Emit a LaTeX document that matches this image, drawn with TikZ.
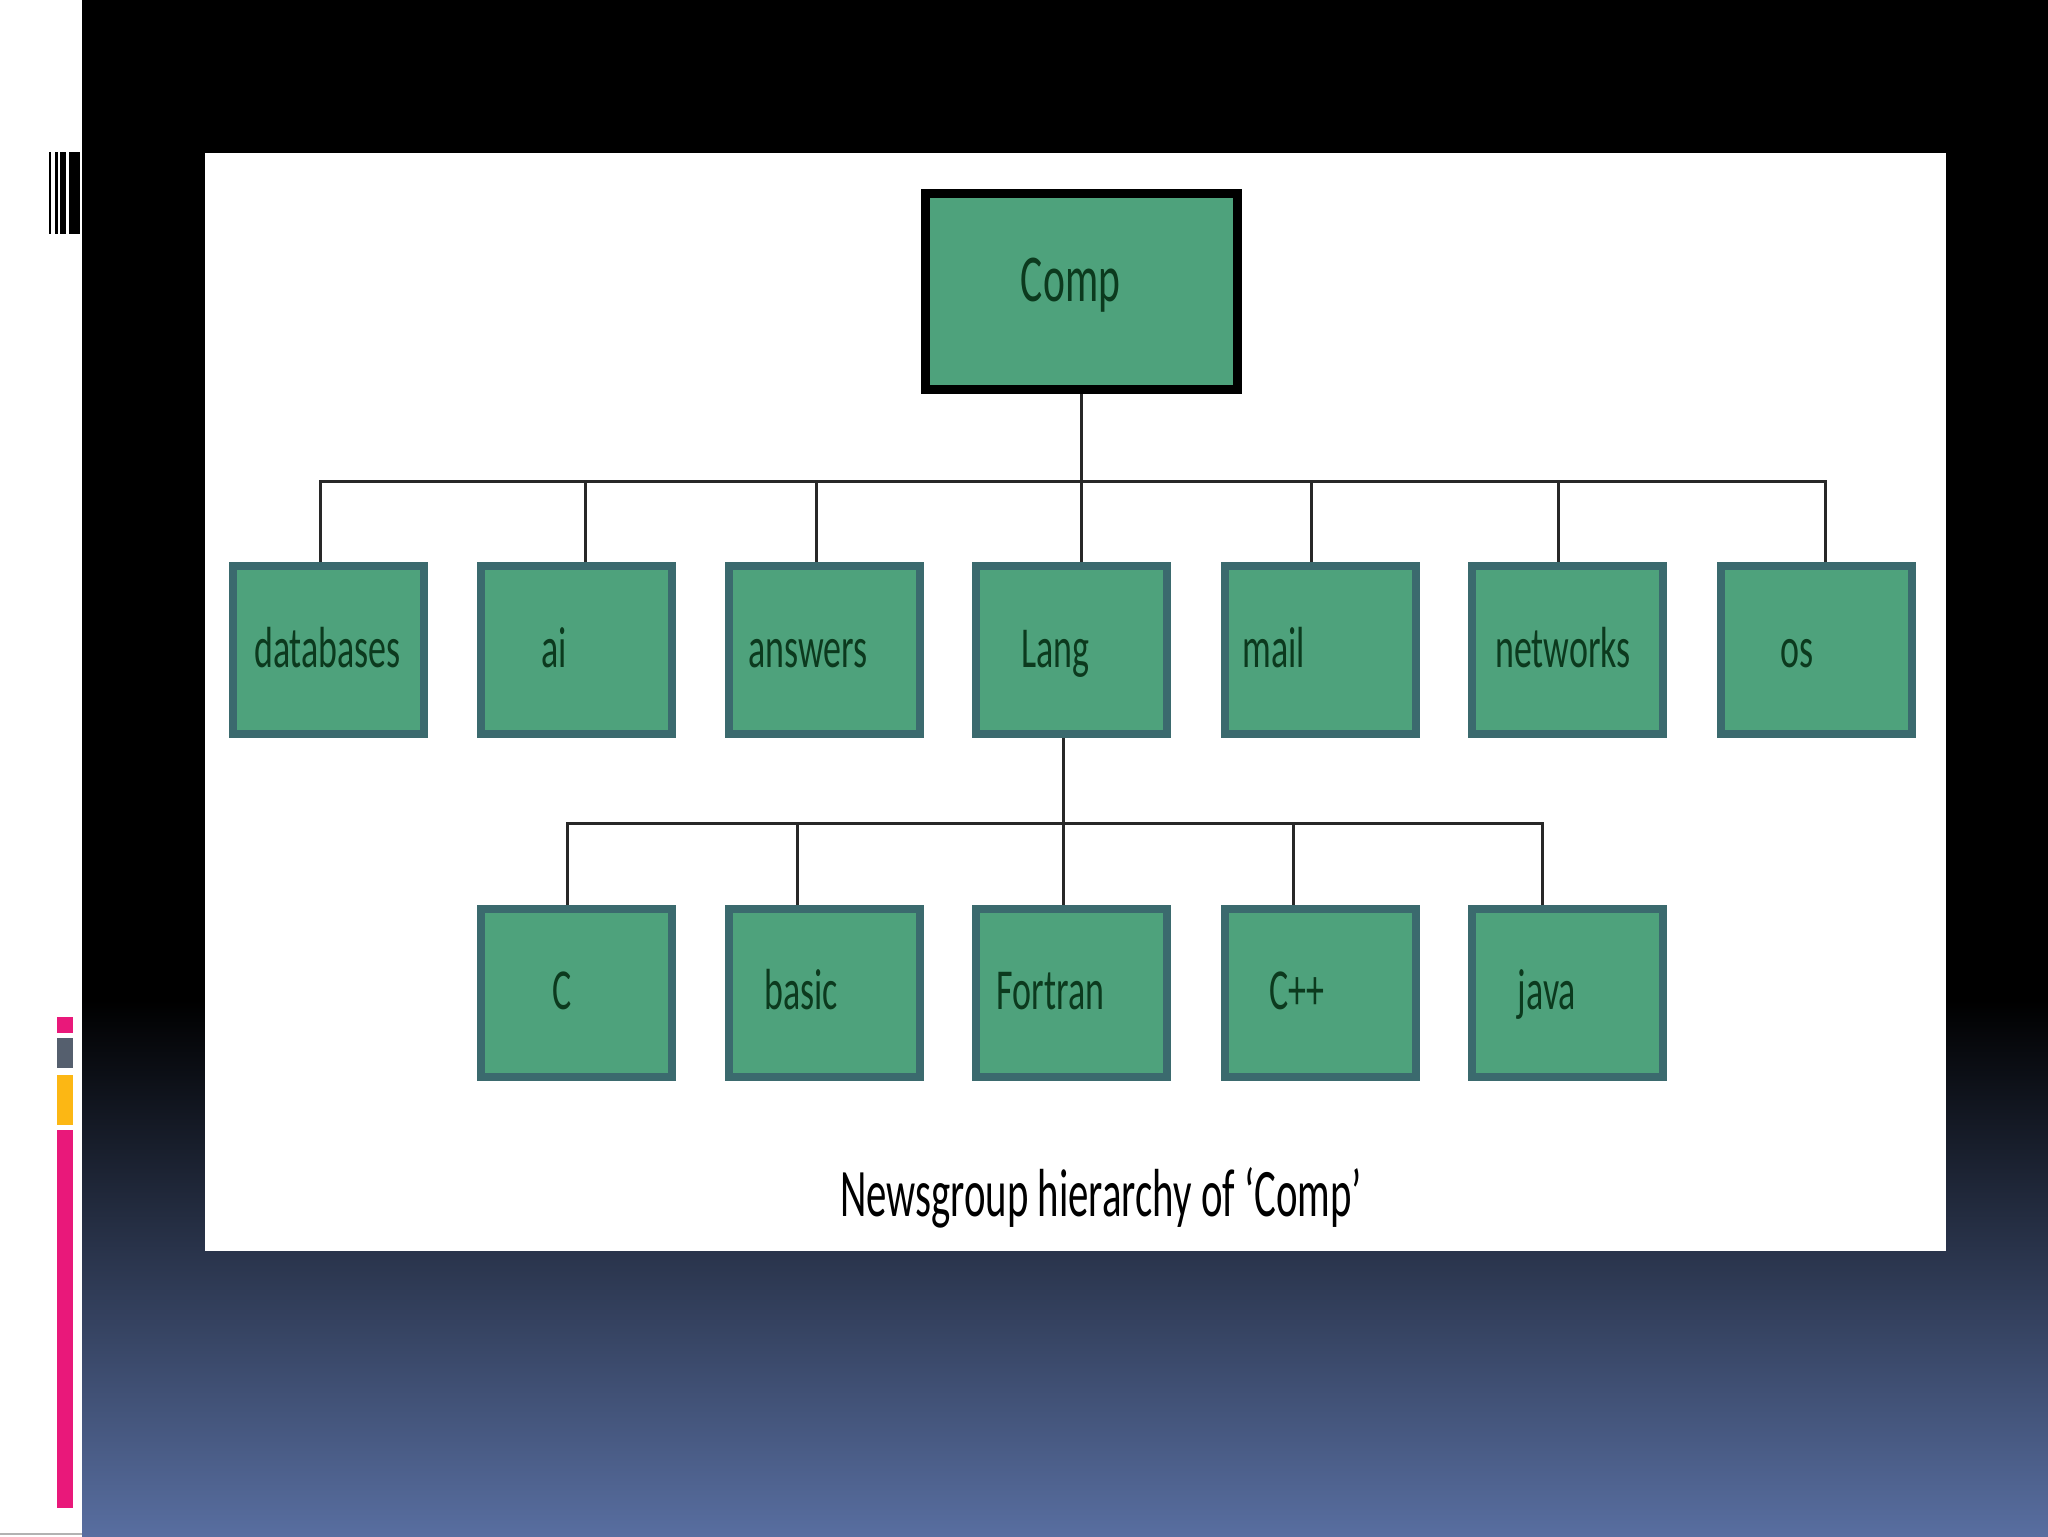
\documentclass[tikz,border=0pt]{standalone}
\usepackage{fontspec}
\usepackage{graphicx}
\setmainfont{Carlito}
\newcommand\sqz[1]{\scalebox{0.62}[1]{#1}}
\definecolor{boxfill}{RGB}{78,162,124}
\definecolor{boxline}{RGB}{59,106,110}
\definecolor{txtgreen}{RGB}{12,58,30}
\definecolor{bgblue}{RGB}{88,110,160}
\definecolor{barpink}{RGB}{233,24,122}
\definecolor{bargray}{RGB}{85,95,110}
\definecolor{baryellow}{RGB}{252,183,20}
\tikzset{
  box/.style={draw=boxline, line width=4pt, fill=boxfill, minimum width=95.5pt, minimum height=84pt, inner sep=0pt},
  rootbox/.style={draw=black, line width=4.5pt, fill=boxfill, minimum width=156pt, minimum height=98pt, inner sep=0pt},
  lbl/.style={font=\fontsize{29}{34}\selectfont, text=txtgreen, inner sep=0pt, text height=20pt, text depth=0pt},
  rootlbl/.style={font=\fontsize{33.5}{38}\selectfont, text=txtgreen, inner sep=0pt, text height=22pt, text depth=0pt},
  conn/.style={draw={rgb,255:red,40;green,40;blue,40}, line width=1.5pt},
  captext/.style={font=\fontsize{34}{40}\selectfont, text=black, inner sep=0pt, anchor=base}
}
\begin{document}
\begin{tikzpicture}[x=0.5pt, y=-0.5pt]
\useasboundingbox (0,0) rectangle (2048,1536);
% background
\fill[white] (0,0) rectangle (82,1536);
\fill[black] (82,0) rectangle (2048,1000);
\shade[top color=black, bottom color=bgblue] (82,1000) rectangle (2048,1536);
\draw[gray!60, line width=1pt] (0,1534) -- (82,1534);
% barcode
\fill[black] (49,152) rectangle (51,234);
\fill[black] (55,152) rectangle (58,234);
\fill[black] (60,152) rectangle (66,234);
\fill[black] (69,152) rectangle (80,234);
% coloured bars
\fill[barpink] (57,1017) rectangle (73,1033);
\fill[bargray] (57,1038) rectangle (73,1068);
\fill[baryellow] (57,1075) rectangle (73,1125);
\fill[barpink] (57,1130) rectangle (73,1508);
% white panel
\fill[white] (205,153) rectangle (1946,1251);

% root
\node[rootbox, label={[rootlbl, xshift=-5.5pt, yshift=6pt]center:\sqz{Comp}}] (comp) at (1081.5,291.5) {};

% level 1
\node[box, label={[lbl, xshift=-0.5pt, yshift=1.5pt]center:\sqz{databases}}] (db) at (328.5,650) {};
\node[box, label={[lbl, xshift=-11pt, yshift=1.5pt]center:\sqz{ai}}] (ai) at (576.5,650) {};
\node[box, label={[lbl, xshift=-8pt, yshift=1.5pt]center:\sqz{answers}}] (ans) at (824,650) {};
\node[box, label={[lbl, xshift=-8pt, yshift=1.5pt]center:\sqz{Lang}}] (lang) at (1071.5,650) {};
\node[box, label={[lbl, xshift=-23pt, yshift=1.5pt]center:\sqz{mail}}] (mail) at (1320,650) {};
\node[box, label={[lbl, xshift=-2pt, yshift=1.5pt]center:\sqz{networks}}] (net) at (1567,650) {};
\node[box, label={[lbl, xshift=-9.5pt, yshift=1.5pt]center:\sqz{os}}] (os) at (1816,650) {};

% level 2
\node[box, label={[lbl, xshift=-7pt, yshift=2pt]center:\sqz{C}}] (c) at (576.5,993) {};
\node[box, label={[lbl, xshift=-11.5pt, yshift=2pt]center:\sqz{basic}}] (basic) at (824,993) {};
\node[box, label={[lbl, xshift=-10.5pt, yshift=2pt]center:\sqz{Fortran}}] (fortran) at (1071.5,993) {};
\node[box, label={[lbl, xshift=-11.5pt, yshift=2pt]center:\sqz{C++}}] (cpp) at (1320,993) {};
\node[box, label={[lbl, xshift=-10pt, yshift=2pt]center:\sqz{java}}] (java) at (1567,993) {};

% junctions
\coordinate (j1) at (1081.5,481);
\coordinate (j2) at (1063,823);

% connectors level 1
\draw[conn] (comp.south) -- (j1);
\draw[conn] (j1) -| ([xshift=-4.25pt]db.north);
\draw[conn] (j1) -| ([xshift=4.25pt]ai.north);
\draw[conn] (j1) -| ([xshift=-4pt]ans.north);
\draw[conn] (j1) -| ([xshift=4.75pt]lang.north);
\draw[conn] (j1) -| ([xshift=-4.5pt]mail.north);
\draw[conn] (j1) -| ([xshift=-4.5pt]net.north);
\draw[conn] (j1) -| ([xshift=4.5pt]os.north);

% connectors level 2
\draw[conn] ([xshift=-4.25pt]lang.south) -- (j2);
\draw[conn] (j2) -| ([xshift=-4.75pt]c.north);
\draw[conn] (j2) -| ([xshift=-13.5pt]basic.north);
\draw[conn] (j2) -| ([xshift=-4.25pt]fortran.north);
\draw[conn] (j2) -| ([xshift=-13.5pt]cpp.north);
\draw[conn] (j2) -| ([xshift=-12.5pt]java.north);

% caption
\node[captext] (cap) at (1101,1216) {\scalebox{0.6}[1]{Newsgroup hierarchy of ‘Comp’}};
\end{tikzpicture}
\end{document}
